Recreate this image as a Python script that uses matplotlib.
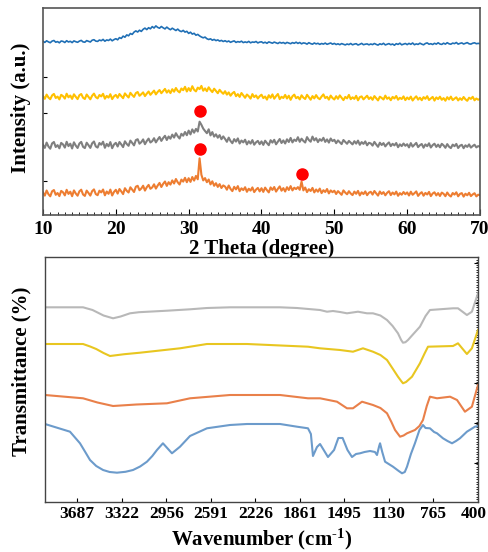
import numpy as np
import matplotlib
matplotlib.use("Agg")
import matplotlib.pyplot as plt
import matplotlib.transforms as mtransforms
from matplotlib.ticker import MultipleLocator

plt.rcParams["font.family"] = "Liberation Serif"
plt.rcParams["font.weight"] = "bold"
plt.rcParams["mathtext.fontset"] = "custom"
plt.rcParams["mathtext.rm"] = "Liberation Serif:bold"
plt.rcParams["mathtext.bf"] = "Liberation Serif:bold"
plt.rcParams["mathtext.default"] = "rm"

# ---- XRD patterns, 10-70 deg every 0.25 deg (offset stack, a.u.) ----
two_theta = np.arange(10, 70.001, 0.25)

xrd_blue = [
    173.8, 172.6, 174.2, 173.1, 172.3, 173.9, 174.5, 172.8, 173.4, 172.2, 174.0, 173.6, 172.5, 174.3, 173.0, 173.7, 172.4, 174.1, 173.3, 172.7,
    173.9, 174.6, 173.1, 172.8, 174.4, 173.7, 173.0, 174.8, 175.3, 173.9, 173.6, 175.0, 174.3, 175.6, 173.8, 175.1, 174.5, 175.9, 174.2, 175.4,
    176.3, 175.2, 177.4, 176.6, 178.9, 177.8, 180.1, 179.2, 181.5, 180.6, 182.9, 184.1, 183.0, 184.8, 183.6, 185.7, 186.9, 185.4, 187.3, 186.2,
    188.4, 187.0, 189.1, 187.6, 186.8, 188.5, 187.2, 186.1, 187.9, 186.4, 185.3, 186.8, 185.6, 184.5, 185.9, 184.2, 183.4, 184.6, 182.9, 183.7,
    181.6, 182.8, 180.9, 181.7, 179.8, 180.6, 179.1, 178.0, 177.2, 177.9, 176.3, 175.5, 176.2, 174.8, 175.6, 174.4, 175.1, 173.9, 174.6, 173.5,
    174.3, 173.2, 174.0, 172.7, 173.5, 174.1, 172.6, 173.4, 172.9, 173.8, 172.4, 173.1, 172.5, 173.6, 172.2, 173.0, 172.7, 173.5, 172.1, 172.9,
    173.2, 172.0, 172.8, 171.7, 173.1, 172.4, 171.8, 172.9, 172.2, 171.5, 172.7, 171.9, 172.5, 171.4, 172.6, 172.0, 171.3, 172.4, 171.7, 172.8,
    171.6, 172.5, 171.2, 172.1, 171.8, 170.9, 172.3, 171.4, 170.8, 172.0, 171.1, 171.7, 170.6, 171.5, 170.9, 171.9, 170.7, 171.3, 172.0, 170.8,
    171.6, 170.5, 171.2, 170.3, 171.4, 170.8, 170.1, 171.0, 170.4, 171.5, 170.2, 170.9, 171.3, 170.0, 170.7, 171.6, 170.3, 170.8, 171.1, 170.2,
    171.0, 170.4, 171.5, 170.6, 169.9, 171.2, 170.5, 171.7, 170.1, 170.8, 171.4, 170.3, 171.0, 169.8, 171.3, 170.6, 171.8, 170.2, 170.9, 171.5,
    170.4, 171.6, 170.7, 172.0, 170.3, 171.1, 170.6, 171.8, 170.9, 170.2, 171.5, 172.1, 170.8, 171.3, 170.5, 171.7, 170.9, 172.2, 171.0, 170.6,
    171.8, 170.9, 172.3, 171.2, 170.8, 171.9, 171.4, 172.5, 170.9, 171.6, 172.1, 171.0, 171.7, 172.4, 171.2, 170.9, 171.8, 172.2, 171.3, 171.6,
    171.4,
]
xrd_yellow = [
    118.9, 116.2, 120.4, 117.5, 115.8, 119.6, 121.1, 117.0, 118.4, 115.6, 120.2, 118.8, 116.4, 121.3, 117.7, 119.5, 116.1, 120.7, 118.2, 115.9,
    119.8, 121.0, 117.3, 116.0, 120.5, 118.1, 115.7, 119.3, 121.4, 117.9, 116.6, 120.0, 118.6, 121.2, 116.3, 119.1, 117.4, 120.8, 115.9, 118.7,
    120.1, 117.2, 121.0, 118.9, 116.8, 121.6, 119.4, 117.5, 122.2, 120.0, 118.1, 121.9, 123.0, 119.2, 120.8, 122.6, 118.9, 121.4, 123.5, 120.2,
    122.3, 124.4, 120.6, 123.1, 125.0, 121.8, 123.9, 126.1, 122.4, 124.7, 121.9, 125.8, 123.3, 127.0, 124.1, 122.6, 126.5, 124.8, 128.2, 123.5,
    126.9, 124.0, 128.8, 125.2, 123.6, 127.4, 125.9, 129.1, 124.3, 126.6, 123.8, 127.7, 125.0, 122.9, 126.3, 124.1, 121.8, 125.2, 123.0, 121.2,
    123.8, 120.4, 122.6, 119.3, 121.7, 123.1, 118.8, 120.9, 118.1, 122.0, 119.6, 117.2, 120.5, 118.8, 116.4, 120.9, 117.9, 119.6, 116.5, 118.8,
    120.3, 116.9, 118.5, 115.4, 119.8, 117.2, 120.6, 116.3, 118.9, 121.0, 115.9, 118.2, 117.0, 120.1, 116.5, 119.3, 115.2, 118.7, 120.4, 116.8,
    118.1, 115.6, 119.7, 117.4, 116.0, 120.2, 117.8, 115.3, 118.9, 116.6, 119.9, 117.1, 115.8, 118.5, 120.6, 116.9, 118.2, 115.4, 119.4, 117.0,
    115.5, 118.8, 116.2, 119.6, 117.3, 114.9, 118.1, 116.6, 120.1, 115.8, 117.7, 116.1, 119.2, 114.7, 117.9, 118.6, 115.6, 117.4, 119.3, 116.0,
    117.8, 115.2, 118.9, 116.7, 114.6, 118.3, 117.1, 115.5, 119.4, 116.2, 117.6, 114.8, 118.1, 116.5, 119.0, 115.3, 117.2, 116.0, 118.6, 114.9,
    117.5, 115.7, 118.4, 114.5, 116.9, 118.7, 115.4, 117.3, 114.8, 117.9, 116.2, 118.8, 115.0, 116.6, 118.1, 114.4, 117.6, 115.9, 118.3, 115.2,
    116.9, 114.3, 117.8, 115.6, 118.4, 114.9, 116.4, 117.7, 114.6, 116.8, 115.1, 118.0, 115.7, 114.2, 117.3, 116.1, 118.2, 114.7, 116.5, 115.3,
    116.0,
]
xrd_gray = [
    70.2, 67.1, 72.4, 68.5, 66.3, 71.6, 73.0, 68.0, 69.9, 66.7, 72.1, 70.6, 67.4, 73.2, 68.9, 71.3, 66.5, 72.7, 69.4, 67.0,
    71.5, 73.1, 68.2, 66.9, 72.3, 69.8, 67.1, 71.7, 73.5, 68.6, 67.4, 72.0, 70.3, 73.3, 67.2, 71.1, 68.7, 72.9, 66.8, 70.5,
    72.2, 68.5, 73.0, 70.6, 67.9, 73.7, 71.0, 69.2, 74.4, 72.1, 69.6, 74.9, 75.8, 71.3, 72.9, 75.6, 70.8, 74.0, 76.4, 72.5,
    73.9, 76.8, 72.6, 75.5, 78.0, 74.1, 77.0, 79.2, 75.0, 78.5, 76.3, 80.4, 77.4, 81.8, 78.7, 76.5, 81.2, 79.3, 83.0, 79.8,
    84.4, 80.6, 85.6, 82.3, 86.1, 83.5, 93.3, 90.2, 86.4, 84.0, 81.8, 85.7, 79.6, 82.9, 78.4, 80.7, 77.3, 79.9, 75.8, 78.6,
    76.1, 73.2, 77.4, 74.0, 71.8, 75.9, 73.4, 76.6, 71.5, 74.5, 72.6, 75.3, 70.6, 73.8, 71.4, 74.9, 70.3, 72.7, 74.1, 70.8,
    73.6, 70.1, 74.3, 71.9, 69.8, 74.8, 72.4, 75.2, 70.7, 73.3, 76.0, 72.0, 74.6, 71.5, 75.7, 73.0, 77.1, 72.6, 75.4, 74.0,
    77.8, 73.2, 76.3, 74.1, 72.5, 77.9, 75.0, 73.3, 78.4, 74.6, 76.8, 72.9, 75.9, 74.2, 77.2, 73.1, 75.6, 72.4, 76.5, 73.9,
    75.2, 71.8, 74.6, 72.7, 70.9, 75.0, 73.1, 71.2, 74.1, 72.3, 70.6, 73.8, 71.4, 74.4, 70.2, 72.9, 71.1, 73.6, 69.7, 72.2,
    71.6, 69.4, 73.1, 70.5, 68.2, 72.3, 70.0, 71.9, 68.6, 70.9, 72.6, 68.9, 71.2, 69.6, 72.0, 67.8, 70.7, 68.9, 71.5, 69.2,
    70.8, 67.6, 71.9, 68.4, 70.3, 72.1, 67.9, 69.8, 71.0, 67.3, 70.6, 68.8, 71.7, 67.5, 69.9, 71.3, 68.1, 70.4, 67.7, 71.2,
    69.6, 67.2, 70.9, 68.3, 66.9, 70.4, 68.8, 71.1, 67.0, 69.3, 70.2, 66.8, 69.7, 68.1, 70.6, 67.4, 69.0, 70.3, 67.6, 68.9,
    68.4,
]
xrd_orange = [
    22.6, 19.4, 24.5, 20.8, 18.7, 23.7, 25.0, 20.2, 22.0, 18.9, 24.1, 22.7, 19.6, 25.2, 21.1, 23.3, 18.8, 24.6, 21.5, 19.3,
    23.7, 25.3, 20.5, 19.1, 24.4, 22.0, 19.4, 23.9, 25.6, 20.9, 19.8, 24.3, 22.6, 25.5, 19.7, 23.5, 21.2, 25.4, 19.5, 23.1,
    25.2, 21.4, 26.0, 23.6, 20.9, 26.8, 24.2, 22.5, 27.7, 25.3, 23.0, 28.3, 29.2, 24.8, 26.5, 29.3, 24.4, 27.8, 30.1, 26.2,
    27.6, 30.7, 26.4, 29.5, 32.1, 28.0, 31.2, 33.5, 29.1, 32.8, 30.4, 34.6, 31.5, 36.0, 32.7, 30.5, 35.4, 33.4, 37.2, 32.8,
    36.8, 33.1, 38.0, 34.4, 39.1, 35.7, 56.7, 40.2, 34.6, 36.9, 32.8, 35.5, 30.6, 33.7, 29.2, 31.8, 28.1, 30.9, 27.0, 29.6,
    28.4, 25.3, 29.5, 26.1, 23.9, 28.2, 25.6, 28.9, 23.8, 26.7, 24.9, 27.8, 23.2, 26.3, 24.4, 27.6, 22.9, 25.4, 27.1, 23.6,
    26.8, 23.1, 27.4, 24.8, 22.6, 27.6, 25.1, 28.0, 23.4, 26.2, 28.6, 24.3, 26.9, 23.5, 27.8, 25.0, 28.9, 24.6, 27.3, 25.9,
    27.9, 25.2, 33.4, 24.6, 27.5, 22.9, 25.8, 24.0, 27.1, 22.6, 25.5, 23.3, 26.4, 21.9, 24.8, 23.0, 26.0, 21.6, 24.6, 22.8,
    24.3, 21.0, 23.9, 22.1, 20.2, 24.6, 22.4, 20.7, 23.8, 21.5, 19.9, 23.4, 21.2, 24.1, 19.6, 22.7, 20.9, 23.6, 19.8, 22.3,
    23.2, 20.4, 24.0, 21.6, 19.4, 23.5, 21.0, 22.9, 19.7, 22.2, 23.8, 19.9, 22.5, 20.6, 23.4, 19.2, 21.9, 20.3, 23.0, 20.8,
    22.6, 19.5, 23.3, 20.2, 21.8, 23.6, 19.1, 21.4, 22.8, 19.3, 22.1, 20.5, 23.1, 18.9, 21.5, 22.7, 19.6, 21.9, 19.0, 22.4,
    21.2, 18.8, 22.5, 19.9, 18.5, 22.0, 20.4, 22.7, 18.7, 21.1, 21.9, 18.4, 21.3, 19.7, 22.2, 18.9, 20.6, 21.8, 18.6, 20.3,
    19.8,
]
# crystalline reflections marked with dots
peak_x = [31.5, 31.5, 45.5]
peak_y = [104.0, 66.0, 40.7]

# ---- FTIR spectra (offset stack) ----
ir_gray_w = [3950, 3638, 3560, 3470, 3392, 3330, 3253, 3180, 2950, 2761, 2622,
             2433, 2023, 1884, 1695, 1638, 1589, 1531, 1474, 1384, 1310, 1261,
             1200, 1146, 1100, 1056, 1030, 1015, 995, 974, 930, 876, 830,
             794, 605, 564, 491, 450, 400]
ir_gray_t = [194.7, 194.7, 192.0, 186.5, 183.7, 185.5, 188.7, 189.8, 191.3, 192.7, 194.0,
             194.7, 194.7, 194.0, 192.0, 190.3, 191.0, 190.0, 188.7, 190.3, 188.7, 188.7,
             186.5, 182.0, 176.0, 168.7, 162.0, 159.3, 159.8, 162.0, 168.0, 175.3, 186.0,
             192.0, 193.7, 193.7, 187.0, 190.3, 208.7]

ir_yellow_w = [3950, 3638, 3580, 3530, 3470, 3417, 3300, 3171, 2843, 2622, 2294,
               1794, 1695, 1531, 1425, 1343, 1261, 1200, 1146, 1100, 1056, 1030,
               1015, 990, 941, 876, 840, 810, 605, 564, 491, 450, 400]
ir_yellow_t = [158.0, 158.0, 155.5, 153.0, 149.0, 146.0, 147.8, 149.3, 153.7, 158.0, 158.0,
               155.3, 153.7, 152.0, 150.3, 153.7, 150.3, 147.0, 142.0, 133.5, 125.3, 121.0,
               118.7, 120.0, 125.3, 138.7, 148.0, 155.3, 156.0, 158.7, 148.0, 153.7, 172.0]

ir_orange_w = [3950, 3638, 3520, 3392, 3200, 2950, 2761, 2433, 2023, 1794, 1695,
               1556, 1474, 1425, 1351, 1261, 1200, 1146, 1110, 1080, 1039, 1010,
               982, 917, 880, 851, 820, 794, 736, 629, 572, 507, 450, 400]
ir_orange_t = [107.0, 103.7, 99.5, 96.0, 97.5, 98.7, 103.7, 107.0, 107.0, 103.7, 103.7,
               100.3, 93.7, 93.7, 100.3, 97.0, 94.0, 88.7, 80.0, 72.0, 65.3, 66.5,
               68.7, 72.0, 76.0, 82.0, 96.0, 105.3, 103.7, 105.3, 102.0, 90.3, 95.3, 117.0]

ir_blue_w = [3950, 3745, 3663, 3620, 3581, 3530, 3474, 3420, 3360, 3290, 3228,
             3170, 3114, 3070, 3032, 2983, 2909, 2843, 2761, 2622, 2433, 2294,
             2023, 1884, 1794, 1770, 1753, 1720, 1695, 1655, 1630, 1580, 1545,
             1510, 1470, 1433, 1400, 1367, 1330, 1285, 1245, 1228, 1210, 1203,
             1185, 1162, 1097, 1050, 1023, 1000, 982, 950, 917, 880, 851,
             830, 794, 760, 736, 687, 650, 613, 580, 548, 491, 425, 400]
ir_blue_t = [78.0, 70.3, 58.7, 50.0, 42.0, 36.0, 32.0, 30.0, 29.3, 30.2, 32.0,
             35.5, 40.3, 46.0, 52.0, 58.7, 48.7, 55.3, 66.0, 73.7, 77.0, 78.0,
             78.0, 75.3, 73.7, 68.0, 46.0, 55.0, 58.0, 50.0, 45.0, 52.0, 64.0,
             64.0, 52.0, 45.0, 48.0, 48.7, 50.0, 51.0, 50.0, 47.0, 56.0, 58.7,
             50.0, 40.3, 35.3, 31.0, 28.7, 30.0, 35.3, 48.0, 58.7, 72.0, 77.0,
             74.0, 73.7, 70.0, 68.7, 63.7, 61.0, 58.7, 61.0, 63.7, 70.3, 75.3, 76.0]

ir_ticks = [3687, 3322, 2956, 2591, 2226, 1861, 1495, 1130, 765, 400]

fig = plt.figure(figsize=(4.89, 5.52), dpi=100)

# XRD panel
ax1 = fig.add_axes([0.0879, 0.6105, 0.8937, 0.375])
ax1.plot(two_theta, xrd_blue, color="#1f6fb5", lw=1.2)
ax1.plot(two_theta, xrd_yellow, color="#FFC000", lw=1.5)
ax1.plot(two_theta, xrd_gray, color="#7F7F7F", lw=1.5)
ax1.plot(two_theta, xrd_orange, color="#ED7D31", lw=1.5)
ax1.plot(peak_x, peak_y, "o", color="#FF0000", ms=8, zorder=5)
ax1.set_xlim(10, 70)
ax1.set_ylim(0, 207)
ax1.set_xticks(range(10, 71, 10))
ax1.xaxis.set_minor_locator(MultipleLocator(1))
ax1.tick_params(axis="x", which="major", direction="in", length=4, labelsize=14, pad=4)
ax1.tick_params(axis="x", which="minor", direction="in", length=2)
ax1.set_yticks([34, 102, 138])
ax1.set_yticklabels([])
ax1.tick_params(axis="y", direction="in", length=3)
for s in ax1.spines.values():
    s.set_color("#555555")
    s.set_linewidth(1.2)
ax1.set_xlabel("2 Theta (degree)", fontsize=15, fontweight="bold", labelpad=1)
ax1.set_ylabel("Intensity (a.u.)", fontsize=15, fontweight="bold")
ax1.yaxis.set_label_coords(-0.027, 0.52)

# FTIR panel
ax2 = fig.add_axes([0.092, 0.0906, 0.8855, 0.4438])
ax2.plot(ir_gray_w, ir_gray_t, color="#B8B8B8", lw=1.5)
ax2.plot(ir_yellow_w, ir_yellow_t, color="#E8C620", lw=1.5)
ax2.plot(ir_orange_w, ir_orange_t, color="#E9804A", lw=1.5)
ax2.plot(ir_blue_w, ir_blue_t, color="#6C9BCB", lw=1.5)
ax2.set_xlim(3950, 400)
ax2.set_ylim(0, 245)
ax2.set_xticks(ir_ticks)
ax2.set_xticklabels([str(t) for t in ir_ticks])
ax2.tick_params(axis="x", direction="in", length=3, labelsize=12.5, pad=3)
# pull the last label in so it stays inside the figure
last = ax2.get_xticklabels()[-1]
last.set_transform(last.get_transform()
                   + mtransforms.ScaledTranslation(-4 / 100, 0, fig.dpi_scale_trans))
ax2.set_yticks(np.arange(39, 245, 40))
ax2.yaxis.set_minor_locator(MultipleLocator(2.5))
ax2.tick_params(axis="y", which="both", left=False, labelleft=False, right=True,
                direction="in")
ax2.tick_params(axis="y", which="major", length=3)
ax2.tick_params(axis="y", which="minor", length=1.5)
for s in ax2.spines.values():
    s.set_color("#444444")
    s.set_linewidth(1.0)
ax2.set_xlabel("Wavenumber (cm$^{\\text{-1}}$)", fontsize=15, fontweight="bold", labelpad=3)
ax2.set_ylabel("Transmittance (%)", fontsize=15, fontweight="bold")
ax2.yaxis.set_label_coords(-0.031, 0.535)

fig.savefig("out.png", dpi=100)
